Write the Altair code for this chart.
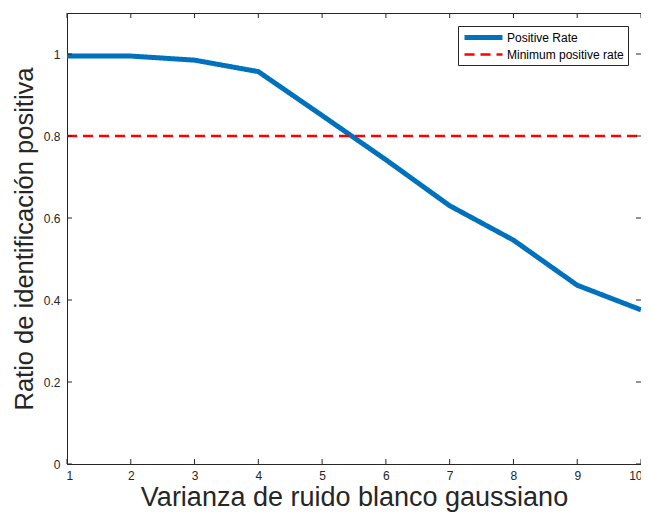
import altair as alt
import pandas as pd

# ---- data ----
noise_variance = [1, 2, 3, 4, 5, 6, 7, 8, 9, 10]
positive_rate = [0.995, 0.995, 0.985, 0.957, 0.850, 0.742, 0.630, 0.546, 0.436, 0.376]
min_x = [1, 10]
min_rate = [0.8, 0.8]
series_names = ["Positive Rate", "Minimum positive rate"]
x_ticks = [1, 2, 3, 4, 5, 6, 7, 8, 9, 10]
y_ticks = [0, 0.2, 0.4, 0.6, 0.8, 1]

W, H = 574, 451
AX = "#262626"
FONT = "Liberation Sans"

df = pd.DataFrame({
    "x": noise_variance + min_x,
    "y": positive_rate + min_rate,
    "s": [series_names[0]] * len(noise_variance) + [series_names[1]] * len(min_x),
})

xs = alt.Scale(domain=[1, 10], nice=False, zero=False)
ys = alt.Scale(domain=[0, 1.1], nice=False)

xaxis = alt.Axis(values=x_ticks, title="Varianza de ruido blanco gaussiano",
                 format="d", labelPadding=6, titlePadding=3, titleFontSize=27,
                 labelFlush=True, labelFlushOffset=1)
yaxis = alt.Axis(values=y_ticks, title="Ratio de identificación positiva",
                 format="~g", labelPadding=7, titlePadding=6, titleFontSize=25.5)

leg = alt.Legend(title=None)

lines = alt.Chart(df).mark_line(clip=False).encode(
    x=alt.X("x:Q", scale=xs, axis=xaxis),
    y=alt.Y("y:Q", scale=ys, axis=yaxis),
    color=alt.Color("s:N", scale=alt.Scale(domain=series_names, range=["#0072BD", "#FF0000"]), legend=leg),
    strokeDash=alt.StrokeDash("s:N", scale=alt.Scale(domain=series_names, range=[[1, 0], [10, 6]]), legend=leg),
    strokeWidth=alt.StrokeWidth("s:N", scale=alt.Scale(domain=series_names, range=[5, 2.5]), legend=leg),
    order="x:Q",
)

xt = pd.DataFrame({"x": x_ticks})
yt = pd.DataFrame({"y": y_ticks})

bottom_ticks = alt.Chart(xt).mark_rule(color=AX, strokeWidth=1).encode(
    x=alt.X("x:Q", scale=xs, axis=xaxis), y=alt.value(H), y2=alt.value(H - 5))
top_ticks = alt.Chart(xt).mark_rule(color=AX, strokeWidth=1).encode(
    x=alt.X("x:Q", scale=xs, axis=xaxis), y=alt.value(0), y2=alt.value(5))
left_ticks = alt.Chart(yt).mark_rule(color=AX, strokeWidth=1).encode(
    y=alt.Y("y:Q", scale=ys, axis=yaxis), x=alt.value(0), x2=alt.value(5))
right_ticks = alt.Chart(yt).mark_rule(color=AX, strokeWidth=1).encode(
    y=alt.Y("y:Q", scale=ys, axis=yaxis), x=alt.value(W), x2=alt.value(W - 5))

chart = alt.layer(lines, bottom_ticks, top_ticks, left_ticks, right_ticks).properties(
    width=W, height=H,
    autosize=alt.AutoSizeParams(type="none"),
    padding={"left": 59, "top": 5, "right": 0, "bottom": 49},
    background="white",
).configure_view(
    stroke=AX, strokeWidth=1,
).configure_axis(
    grid=False, tickSize=0, domainColor=AX, domainWidth=1,
    labelColor=AX, labelFont=FONT, labelFontSize=12,
    titleColor=AX, titleFont=FONT, titleFontWeight="normal",
).configure_legend(
    orient="none", legendX=391, legendY=13,
    strokeColor=AX, fillColor="white", padding=4, cornerRadius=0,
    symbolType="M-1,0H6.6", symbolSize=100, symbolStrokeColor="#0072BD",
    labelFont=FONT, labelFontSize=12, labelColor="black", labelOffset=30,
    rowPadding=0,
)

chart.save("out.html", embed_options={"renderer": "svg", "actions": False})
